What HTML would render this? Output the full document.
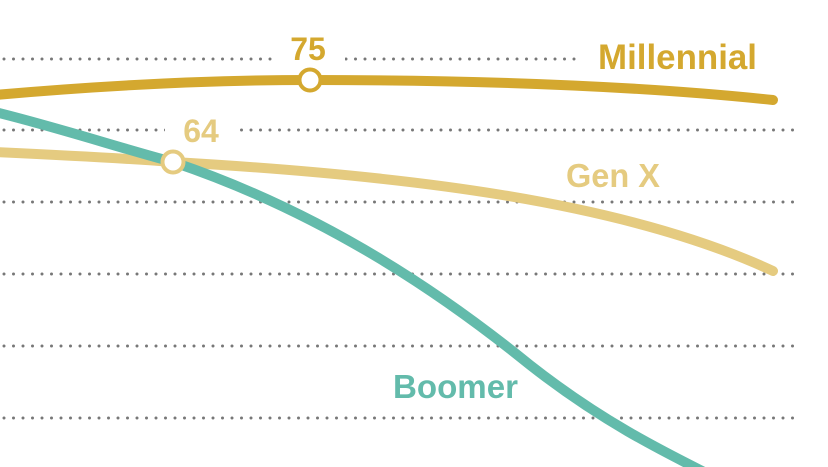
<!DOCTYPE html>
<html><head><meta charset="utf-8"><style>
html,body{margin:0;padding:0;background:#fff;}
svg{display:block;}
text{font-family:"Liberation Sans",Arial,sans-serif;font-weight:bold;}
</style></head><body>
<svg width="828" height="467" viewBox="0 0 828 467">
<g stroke="#777" stroke-width="3" stroke-linecap="round" stroke-dasharray="0 9.5" fill="none">
<line x1="4" y1="59" x2="795" y2="59"/>
<line x1="4" y1="130" x2="795" y2="130"/>
<line x1="4" y1="202" x2="795" y2="202"/>
<line x1="4" y1="274" x2="795" y2="274"/>
<line x1="4" y1="346" x2="795" y2="346"/>
<line x1="4" y1="418" x2="795" y2="418"/>
</g>
<g fill="#fff">
<rect x="275" y="30" width="70" height="40"/>
<rect x="577" y="36" width="251" height="36"/>
<rect x="165" y="110" width="75" height="40"/>
</g>
<g fill="none" stroke-linecap="round" stroke-width="10">
<path d="M-5,95 C120,84 230,80 310,80 C480,80 640,86 773,100" stroke="#D4A82F"/>
<path d="M-5,152 C60,155 120,158 173,162 C400,175 620,200 773,271" stroke="#E5CB80"/>
<path d="M-5,112 C60,128 120,148 173,162 C330,215 450,300 530,365 C600,420 660,450 710,475" stroke="#63BBAB"/>
</g>
<circle cx="310" cy="80" r="10.5" fill="#fff" stroke="#D4A82F" stroke-width="4"/>
<circle cx="173" cy="162" r="10.5" fill="#fff" stroke="#E5CB80" stroke-width="4"/>
<text x="308" y="60" font-size="32" fill="#D4A82F" text-anchor="middle">75</text>
<text x="201" y="142" font-size="32" fill="#E5CB80" text-anchor="middle">64</text>
<text x="757" y="69" font-size="35" fill="#D4A82F" text-anchor="end" textLength="159" lengthAdjust="spacingAndGlyphs">Millennial</text>
<text x="566" y="187" font-size="33" fill="#E5CB80" textLength="94" lengthAdjust="spacingAndGlyphs">Gen X</text>
<text x="393" y="398" font-size="33" fill="#63BBAB" textLength="125" lengthAdjust="spacingAndGlyphs">Boomer</text>
</svg>
</body></html>
